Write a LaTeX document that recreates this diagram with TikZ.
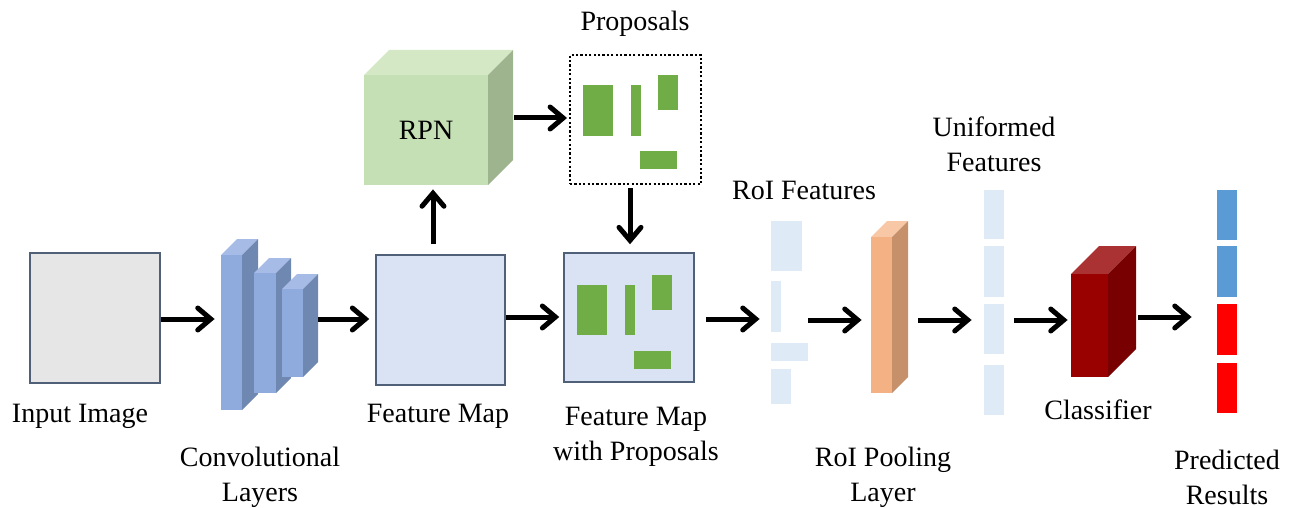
\documentclass[tikz,border=0pt]{standalone}
\usepackage{fontspec}
\setmainfont{Liberation Serif}
\newfontfamily\labelfont{Liberation Serif}
\usetikzlibrary{arrows.meta,fit}
\definecolor{bordc}{RGB}{80,96,120}
\definecolor{inpgray}{RGB}{230,230,230}
\definecolor{fmblue}{RGB}{218,227,243}
\definecolor{propgreen}{RGB}{112,173,71}
\definecolor{roiblue}{RGB}{222,235,247}
\definecolor{predblue}{RGB}{91,155,213}
\definecolor{predred}{RGB}{255,0,0}
\definecolor{convfront}{RGB}{143,170,220}
\definecolor{convtop}{RGB}{166,187,230}
\definecolor{convside}{RGB}{111,136,178}
\definecolor{rpnfront}{RGB}{197,224,180}
\definecolor{rpntop}{RGB}{212,232,198}
\definecolor{rpnside}{RGB}{158,180,143}
\definecolor{poolfront}{RGB}{244,177,131}
\definecolor{pooltop}{RGB}{248,199,165}
\definecolor{poolside}{RGB}{197,144,106}
\definecolor{clsfront}{RGB}{153,0,0}
\definecolor{clstop}{RGB}{170,50,50}
\definecolor{clsside}{RGB}{120,0,0}
\newcommand{\mycube}[9]{%
  \fill[#8] (#2,#3) -- (#2+#6,#3-#6) -- (#4+#6,#3-#6) -- (#4,#3) -- cycle;
  \fill[#9] (#4,#3) -- (#4+#6,#3-#6) -- (#4+#6,#5-#6) -- (#4,#5) -- cycle;
  \node[fit={(#2,#3) (#4,#5)}, inner sep=0pt, fill=#7] (#1f) {};
  \node[fit={(#2,#3-#6) (#4+#6,#5)}, inner sep=0pt] (#1) {};
}
\begin{document}
\begin{tikzpicture}[x=0.5pt,y=-0.5pt,
  lbl/.style={font=\labelfont\fontsize{14pt}{17.5pt}\selectfont, align=center, inner sep=0pt},
  imgbox/.style={draw=bordc, line width=0.75pt, inner sep=0pt},
  arr/.style={line width=2.5pt, -{Straight Barb[length=6.5pt,width=11pt,line cap=round]}},
  grp/.style={inner sep=0pt}]
\useasboundingbox (0,0) rectangle (1296,508);

% input image
\node[imgbox, fill=inpgray, fit={(30,253) (160,383)}] (input) {};
\node[lbl] (inputt) at (80,416) {Input Image};

% conv layers
\mycube{convA}{221}{255}{242}{410}{16}{convfront}{convtop}{convside}
\mycube{convB}{254}{273}{276}{393}{15}{convfront}{convtop}{convside}
\mycube{convC}{282}{289}{303}{377}{15}{convfront}{convtop}{convside}
\node[lbl] (convt) at (260,477) {Convolutional\\Layers};

% feature map
\node[imgbox, fill=fmblue, fit={(376,255) (505,385)}] (fm) {};
\node[lbl] (fmt) at (438,416) {Feature Map};

% RPN
\mycube{rpn}{364}{75}{488}{185}{25}{rpnfront}{rpntop}{rpnside}
\node[lbl] (rpnt) at (rpnf.center) {RPN};

% proposals
\node[draw=black, line width=1pt, dash pattern=on 1.1pt off 1.1pt, inner sep=0pt, fit={(570,55) (701,184)}] (prop) {};
\fill[propgreen] (583,85) rectangle (613,136);
\fill[propgreen] (631,85) rectangle (641,136);
\fill[propgreen] (658,75) rectangle (678,110);
\fill[propgreen] (640,151) rectangle (677,169);
\node[lbl] (propt) at (635,24) {Proposals};

% feature map with proposals
\node[imgbox, fill=fmblue, fit={(564,253) (694,382)}] (fmp) {};
\fill[propgreen] (577,285) rectangle (607,335);
\fill[propgreen] (625,285) rectangle (635,335);
\fill[propgreen] (652,275) rectangle (672,310);
\fill[propgreen] (634,351) rectangle (671,369);
\node[lbl] (fmpt) at (636,437) {Feature Map\\with Proposals};

% RoI features
\fill[roiblue] (771,221) rectangle (802,271);
\fill[roiblue] (771,281) rectangle (781,332);
\fill[roiblue] (771,343) rectangle (808,361);
\fill[roiblue] (771,369) rectangle (791,404);
\node[grp, fit={(771,221) (808,404)}] (roif) {};
\node[lbl] (roift) at (804,190) {RoI Features};

% RoI pooling
\mycube{pool}{871}{237}{892}{393}{16}{poolfront}{pooltop}{poolside}
\node[lbl] (poolt) at (883,477) {RoI Pooling\\Layer};

% uniformed features
\fill[roiblue] (984,190) rectangle (1004,239);
\fill[roiblue] (984,246) rectangle (1004,297);
\fill[roiblue] (984,304) rectangle (1004,354);
\fill[roiblue] (984,365) rectangle (1004,415);
\node[grp, fit={(984,190) (1004,415)}] (uni) {};
\node[lbl] (unit) at (994,144) {Uniformed\\Features};

% classifier
\mycube{cls}{1071}{274}{1108}{377}{28}{clsfront}{clstop}{clsside}
\node[lbl] (clst) at (1098,410) {Classifier};

% predicted results
\fill[predblue] (1217,190) rectangle (1237,240);
\fill[predblue] (1217,246) rectangle (1237,297);
\fill[predred] (1217,304) rectangle (1237,355);
\fill[predred] (1217,363) rectangle (1237,413);
\node[grp, fit={(1217,190) (1237,413)}] (pred) {};
\node[lbl] (predt) at (1227,477) {Predicted\\Results};

% row coordinates
\coordinate (rowA) at (0,319);
\coordinate (rowB) at (0,317);
\coordinate (rowC) at (0,320);
\coordinate (colA) at (433,0);
\coordinate (colB) at (630,0);
\coordinate (rowD) at (0,118);

% arrows
\draw[arr, shorten >=3pt] (input.east |- rowA) -- (convAf.west |- rowA);
\draw[arr, shorten >=3pt] (convC.east |- rowA) -- (fm.west |- rowA);
\draw[arr, shorten <=5pt, shorten >=2pt] (colA |- fm.north) -- (colA |- rpnf.south);
\draw[arr, shorten <=0.5pt, shorten >=1pt] (rpn.east |- rowD) -- (prop.west |- rowD);
\draw[arr, shorten <=1.5pt, shorten >=4pt] (colB |- prop.south) -- (colB |- fmp.north);
\draw[arr, shorten >=2pt] (fm.east |- rowB) -- (fmp.west |- rowB);
\draw[arr, shorten <=5.5pt, shorten >=5.5pt] (fmp.east |- rowA) -- (roif.west |- rowA);
\draw[arr, shorten >=4.5pt] (roif.east |- rowC) -- (pool.west |- rowC);
\draw[arr, shorten <=5pt, shorten >=6pt] (pool.east |- rowC) -- (uni.west |- rowC);
\draw[arr, shorten <=5pt, shorten >=1.5pt] (uni.east |- rowC) -- (clsf.west |- rowC);
\draw[arr, shorten <=1pt, shorten >=12.5pt] (cls.east |- rowB) -- (pred.west |- rowB);
\end{tikzpicture}
\end{document}
